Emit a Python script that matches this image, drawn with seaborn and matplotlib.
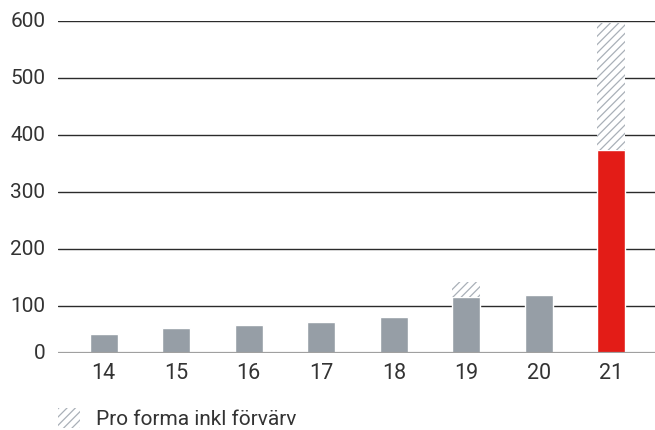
import numpy as np
import pandas as pd
import matplotlib
matplotlib.use('Agg')
import matplotlib.pyplot as plt
import seaborn as sns
from matplotlib.patches import Patch

# ── data ──────────────────────────────────────────────
years = ['14', '15', '16', '17', '18', '19', '20', '21']
reported = [51, 62, 67, 72, 81, 116, 119, 374]
proforma = [None, None, None, None, None, 142, None, 596]

GREY = '#969ea6'
RED = '#e31c17'
HATCH = '#a9b0b8'
TXT = '#333333'

sns.set_style('white')
plt.rcParams['font.family'] = ['Roboto', 'DejaVu Sans']
plt.rcParams['hatch.linewidth'] = 0.9

fig = plt.figure(figsize=(6.55, 4.3), dpi=100)
ax = fig.add_axes([0.0885, 0.179, 0.9115, 0.772])

# gridlines behind bars
for v in [100, 200, 300, 400, 500, 600]:
    ax.axhline(v, color='#2b2b2b', lw=1.0, zorder=0)

df = pd.DataFrame({'year': years, 'value': reported})
colors = [GREY] * 7 + [RED]
sns.barplot(data=df, x='year', y='value', hue='year', palette=colors,
            legend=False, width=0.386, saturation=1, ax=ax, zorder=2)

# pro forma extension (hatched)
for i, (r, p) in enumerate(zip(reported, proforma)):
    if p is not None:
        ax.bar(i, p - r, bottom=r, width=0.386, facecolor='white',
               edgecolor=HATCH, hatch='////', linewidth=0, zorder=2)

ax.axhline(17.5, color='#a0a0a0', lw=1.6, zorder=3)
ax.set_ylim(17.5, 600)
ax.set_xlim(-0.63, 7.6)
ax.set_yticks([17.5, 100, 200, 300, 400, 500, 600])
ax.set_yticklabels(['0', '100', '200', '300', '400', '500', '600'])
ax.set_xlabel('')
ax.set_ylabel('')
for s in ax.spines.values():
    s.set_visible(False)
ax.tick_params(axis='y', length=0, pad=9, labelsize=15, labelcolor=TXT)
ax.tick_params(axis='x', length=0, pad=7, labelsize=15.5, labelcolor=TXT)
for lbl in ax.get_yticklabels():
    lbl.set_verticalalignment('center')

handle = Patch(facecolor='white', edgecolor=HATCH, hatch='////', linewidth=0)
fig.legend([handle], ['Pro forma inkl förvärv'], loc='lower left',
           bbox_to_anchor=(58 / 655, 1 / 430), borderaxespad=0, borderpad=0,
           frameon=False, fontsize=15, handlelength=1.05, handleheight=1.1,
           handletextpad=0.75, labelcolor=TXT)

fig.savefig('out.png', dpi=100)
